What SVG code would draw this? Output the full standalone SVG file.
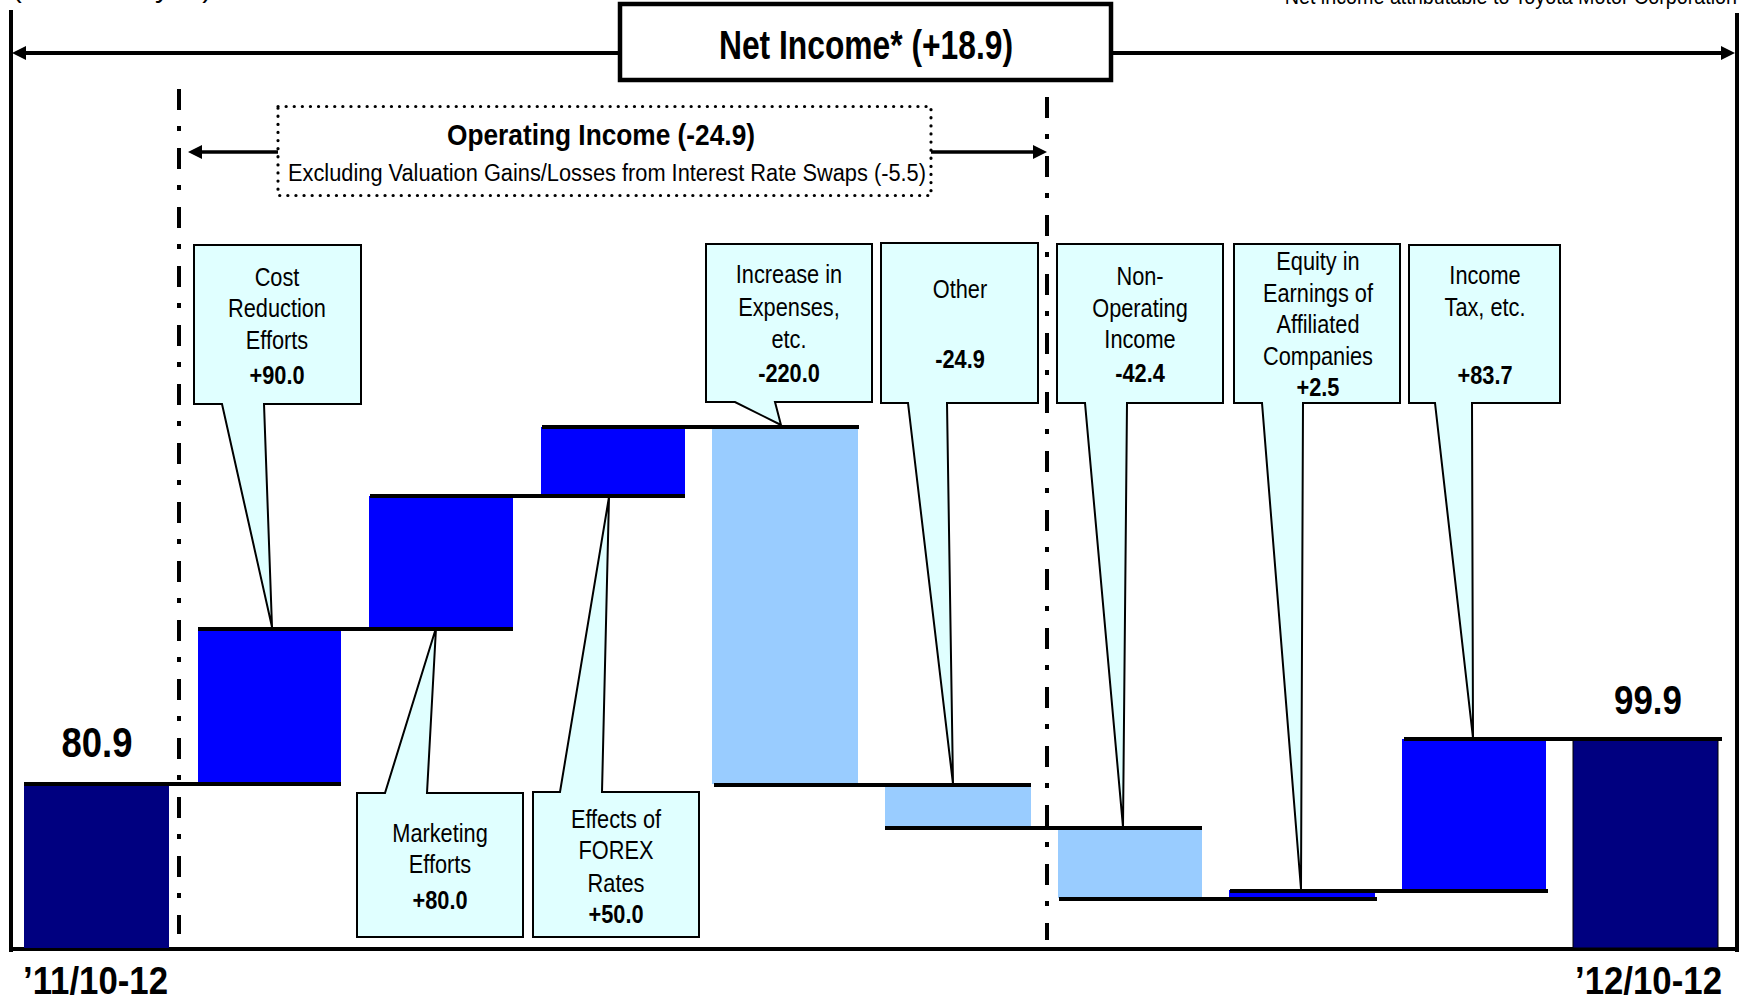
<svg xmlns="http://www.w3.org/2000/svg" width="1741" height="1001" viewBox="0 0 1741 1001">
<style>
text{font-family:"Liberation Sans",Arial,sans-serif;fill:#000}
.lbl{font-size:25px;text-anchor:middle}
.val{font-size:25px;font-weight:bold;text-anchor:middle}
.big{font-weight:bold}
.call{fill:#E0FFFF;stroke:#000;stroke-width:2;stroke-linejoin:miter}
.navy{fill:#000080}
.blue{fill:#0000FF}
.lt{fill:#99CCFF}
.lvl{stroke:#000;stroke-width:4;fill:none}
.dd{stroke:#000;stroke-width:4;fill:none;stroke-dasharray:21 16 5 17}
</style>
<defs>
<marker id="ah" markerUnits="userSpaceOnUse" viewBox="0 0 10 10" refX="0" refY="5" markerWidth="14" markerHeight="15" orient="auto-start-reverse"><path d="M0,0 L10,5 L0,10 Z" fill="#000"/></marker>
</defs>

<!-- header texts (cut off at top edge, as in the reference) -->
<text x="12" y="-3" font-size="28" textLength="200" lengthAdjust="spacingAndGlyphs">(Billions of yen)</text>
<text x="1277" y="4" font-size="22" textLength="460" lengthAdjust="spacingAndGlyphs">*Net income attributable to Toyota Motor Corporation</text>

<!-- frame -->
<g id="frame">
<line x1="11" y1="10" x2="11" y2="952" stroke="#000" stroke-width="4"/>
<line x1="1737" y1="13" x2="1737" y2="952" stroke="#000" stroke-width="4"/>
<line x1="11" y1="949" x2="1737" y2="949" stroke="#000" stroke-width="4"/>
<line class="dd" x1="179" y1="89" x2="179" y2="934"/>
<line class="dd" x1="1047" y1="97" x2="1047" y2="940"/>
</g>

<!-- bars -->
<g id="bar-1110-12"><rect class="navy" x="24" y="784" width="145" height="164"/></g>
<g id="bar-cost"><rect class="blue" x="198" y="629" width="143" height="155"/></g>
<g id="bar-marketing"><rect class="blue" x="369" y="496" width="144" height="133"/></g>
<g id="bar-forex"><rect class="blue" x="541" y="427" width="144" height="69"/></g>
<g id="bar-increase"><rect class="lt" x="712" y="427" width="146" height="357"/></g>
<g id="bar-other"><rect class="lt" x="885" y="784" width="146" height="42"/></g>
<g id="bar-nonop"><rect class="lt" x="1058" y="827" width="144" height="71"/></g>
<g id="bar-equity"><rect class="blue" x="1229" y="890" width="146" height="7"/></g>
<g id="bar-tax"><rect class="blue" x="1402" y="739" width="144" height="151"/></g>
<g id="bar-1210-12"><rect class="navy" x="1573" y="739" width="145" height="209" stroke="#000" stroke-width="1"/></g>

<!-- connectors: level lines and arrows -->
<g id="connectors">
<line class="lvl" x1="24" y1="784" x2="341" y2="784"/>
<line class="lvl" x1="198" y1="629" x2="513" y2="629"/>
<line class="lvl" x1="370" y1="496" x2="685" y2="496"/>
<line class="lvl" x1="542" y1="427" x2="859" y2="427"/>
<line class="lvl" x1="714" y1="785" x2="1031" y2="785"/>
<line class="lvl" x1="885" y1="828" x2="1202" y2="828"/>
<line class="lvl" x1="1059" y1="899" x2="1377" y2="899"/>
<line class="lvl" x1="1230" y1="891" x2="1548" y2="891"/>
<line class="lvl" x1="1404" y1="739" x2="1722" y2="739"/>
<line x1="26" y1="53" x2="1721" y2="53" stroke="#000" stroke-width="4" marker-start="url(#ah)" marker-end="url(#ah)"/>
<line x1="278" y1="152" x2="202" y2="152" stroke="#000" stroke-width="3.5" marker-end="url(#ah)"/>
<line x1="931" y1="152" x2="1033" y2="152" stroke="#000" stroke-width="3.5" marker-end="url(#ah)"/>
</g>

<!-- Net income box -->
<g id="net-income">
<rect x="620" y="4" width="491" height="76" fill="#fff" stroke="#000" stroke-width="4.5"/>
<text class="big" x="866" y="59" font-size="41" text-anchor="middle" textLength="294" lengthAdjust="spacingAndGlyphs">Net Income* (+18.9)</text>
</g>

<!-- Operating income box -->
<g id="operating-income">
<rect x="278" y="106.5" width="653" height="89" fill="#fff" stroke="#000" stroke-width="3.2" stroke-linecap="round" stroke-dasharray="0.1 8"/>
<text class="big" x="601" y="145" font-size="30" text-anchor="middle" textLength="308" lengthAdjust="spacingAndGlyphs">Operating Income (-24.9)</text>
<text x="607" y="181" font-size="23" text-anchor="middle" textLength="638" lengthAdjust="spacingAndGlyphs">Excluding Valuation Gains/Losses from Interest Rate Swaps (-5.5)</text>
</g>

<!-- callouts -->
<g id="callout-cost">
<path class="call" d="M194,245 H361 V404 H264 L272,627 L222,404 H194 Z"/>
<g transform="translate(277,0) scale(0.87,1)">
<text class="lbl" x="0" y="286">Cost</text>
<text class="lbl" x="0" y="317">Reduction</text>
<text class="lbl" x="0" y="349">Efforts</text>
<text class="val" x="0" y="384">+90.0</text>
</g>
</g>

<g id="callout-marketing">
<path class="call" d="M357,793 H385 L436,628 L427,793 H523 V937 H357 Z"/>
<g transform="translate(440,0) scale(0.87,1)">
<text class="lbl" x="0" y="842">Marketing</text>
<text class="lbl" x="0" y="873">Efforts</text>
<text class="val" x="0" y="909">+80.0</text>
</g>
</g>

<g id="callout-forex">
<path class="call" d="M533,792 H560 L609,497 L602,792 H699 V937 H533 Z"/>
<g transform="translate(616,0) scale(0.87,1)">
<text class="lbl" x="0" y="828">Effects of</text>
<text class="lbl" x="0" y="859">FOREX</text>
<text class="lbl" x="0" y="892">Rates</text>
<text class="val" x="0" y="923">+50.0</text>
</g>
</g>

<g id="callout-increase">
<path class="call" d="M706,244 H872 V402 H775 L781,425 L735,402 H706 Z"/>
<g transform="translate(789,0) scale(0.87,1)">
<text class="lbl" x="0" y="283">Increase in</text>
<text class="lbl" x="0" y="316">Expenses,</text>
<text class="lbl" x="0" y="348">etc.</text>
<text class="val" x="0" y="382">-220.0</text>
</g>
</g>

<g id="callout-other">
<path class="call" d="M881,243 H1038 V403 H947 L953,784 L908,403 H881 Z"/>
<g transform="translate(960,0) scale(0.87,1)">
<text class="lbl" x="0" y="298">Other</text>
<text class="val" x="0" y="368">-24.9</text>
</g>
</g>

<g id="callout-nonop">
<path class="call" d="M1057,244 H1223 V403 H1127 L1123,827 L1085,403 H1057 Z"/>
<g transform="translate(1140,0) scale(0.87,1)">
<text class="lbl" x="0" y="285">Non-</text>
<text class="lbl" x="0" y="317">Operating</text>
<text class="lbl" x="0" y="348">Income</text>
<text class="val" x="0" y="382">-42.4</text>
</g>
</g>

<g id="callout-equity">
<path class="call" d="M1234,244 H1400 V403 H1303 L1301,889 L1262,403 H1234 Z"/>
<g transform="translate(1318,0) scale(0.87,1)">
<text class="lbl" x="0" y="270">Equity in</text>
<text class="lbl" x="0" y="302">Earnings of</text>
<text class="lbl" x="0" y="333">Affiliated</text>
<text class="lbl" x="0" y="365">Companies</text>
<text class="val" x="0" y="396">+2.5</text>
</g>
</g>

<g id="callout-tax">
<path class="call" d="M1409,245 H1560 V403 H1472 L1473,738 L1435,403 H1409 Z"/>
<g transform="translate(1485,0) scale(0.87,1)">
<text class="lbl" x="0" y="284">Income</text>
<text class="lbl" x="0" y="316">Tax, etc.</text>
<text class="val" x="0" y="384">+83.7</text>
</g>
</g>

<!-- value labels -->
<g id="labels">
<text class="big" x="97" y="757" font-size="42" text-anchor="middle" textLength="71" lengthAdjust="spacingAndGlyphs">80.9</text>
<text class="big" x="1648" y="714" font-size="41" text-anchor="middle" textLength="68" lengthAdjust="spacingAndGlyphs">99.9</text>
<text class="big" x="23" y="994" font-size="38" textLength="145" lengthAdjust="spacingAndGlyphs">’11/10-12</text>
<text class="big" x="1575" y="994" font-size="38" textLength="147" lengthAdjust="spacingAndGlyphs">’12/10-12</text>
</g>
</svg>
